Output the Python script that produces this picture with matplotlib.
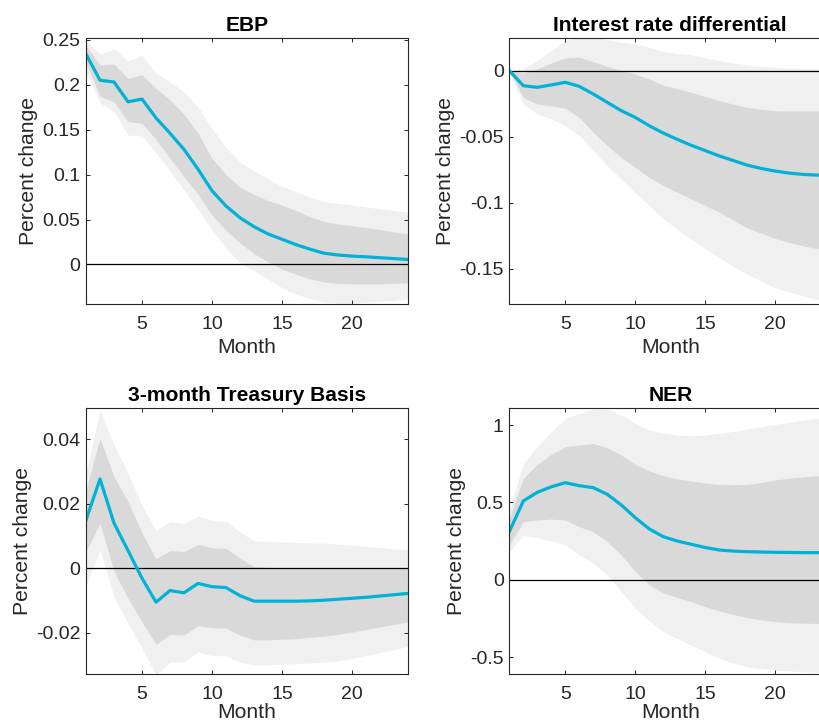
import numpy as np
import matplotlib
matplotlib.use('Agg')
from matplotlib import pyplot as plt
from matplotlib.ticker import FuncFormatter

plt.rcParams['font.family'] = ['Liberation Sans', 'DejaVu Sans']

months = np.arange(1, 25)

# EBP
ebp_med = [0.234, 0.205, 0.203, 0.181, 0.184, 0.163, 0.146, 0.128, 0.106, 0.082, 0.065, 0.052,
           0.042, 0.034, 0.028, 0.022, 0.017, 0.0125, 0.0105, 0.0093, 0.0085, 0.0075, 0.0065, 0.0055]
ebp_hi68 = [0.243, 0.222, 0.223, 0.207, 0.211, 0.196, 0.183, 0.167, 0.146, 0.118, 0.100, 0.086,
            0.078, 0.071, 0.066, 0.060, 0.053, 0.048, 0.045, 0.043, 0.041, 0.039, 0.036, 0.034]
ebp_lo68 = [0.224, 0.187, 0.181, 0.159, 0.157, 0.139, 0.118, 0.098, 0.078, 0.055, 0.038, 0.024,
            0.012, 0.003, -0.005, -0.011, -0.016, -0.0195, -0.021, -0.0215, -0.0215, -0.0215, -0.021, -0.0205]
ebp_hi90 = [0.250, 0.234, 0.240, 0.226, 0.233, 0.213, 0.203, 0.192, 0.175, 0.151, 0.130, 0.114,
            0.104, 0.095, 0.087, 0.081, 0.075, 0.070, 0.068, 0.066, 0.064, 0.062, 0.060, 0.058]
ebp_lo90 = [0.215, 0.180, 0.170, 0.144, 0.143, 0.124, 0.104, 0.083, 0.061, 0.039, 0.018, 0.002,
            -0.007, -0.016, -0.026, -0.033, -0.038, -0.042, -0.043, -0.043, -0.042, -0.041, -0.040, -0.038]

# Interest rate differential
ird_med = [0.0, -0.0114, -0.0126, -0.0108, -0.0088, -0.0119, -0.0177, -0.024, -0.0303, -0.0354, -0.0417, -0.0472,
           -0.052, -0.0565, -0.0605, -0.0645, -0.068, -0.0715, -0.074, -0.076, -0.0775, -0.0785, -0.079, -0.0792]
ird_hi68 = [0.0, -0.0018, 0.0013, 0.0058, 0.0096, 0.0101, 0.0068, 0.0033, 0.0, -0.0025, -0.0063, -0.011,
            -0.0135, -0.0164, -0.0195, -0.0227, -0.0255, -0.0278, -0.0292, -0.0303, -0.0305, -0.0305, -0.0305, -0.0305]
ird_lo68 = [0.0, -0.0202, -0.0253, -0.0265, -0.0285, -0.0354, -0.0467, -0.0568, -0.0657, -0.0732, -0.0808, -0.087,
            -0.092, -0.097, -0.102, -0.107, -0.113, -0.119, -0.123, -0.127, -0.130, -0.1326, -0.1346, -0.1355]
ird_hi90 = [0.0, 0.0013, 0.0076, 0.0152, 0.0227, 0.026, 0.026, 0.0235, 0.0214, 0.0202, 0.0177, 0.0145,
            0.013, 0.0119, 0.0098, 0.0076, 0.006, 0.0043, 0.0033, 0.0025, 0.002, 0.0018, 0.0016, 0.0015]
ird_lo90 = [0.0, -0.0253, -0.0328, -0.0366, -0.0417, -0.0492, -0.0606, -0.072, -0.082, -0.0922, -0.1023, -0.112,
            -0.120, -0.1275, -0.1345, -0.1414, -0.148, -0.154, -0.159, -0.1642, -0.1675, -0.1705, -0.173, -0.175]

# 3-month Treasury basis
tb_med = [0.015, 0.0277, 0.014, 0.0055, -0.0031, -0.0105, -0.0069, -0.0076, -0.0047, -0.0057, -0.006, -0.0085,
          -0.0102, -0.0102, -0.0102, -0.0102, -0.0101, -0.0099, -0.0096, -0.0093, -0.009, -0.0086, -0.0082, -0.0078]
tb_hi68 = [0.0243, 0.0403, 0.0284, 0.0207, 0.0109, 0.0029, 0.0055, 0.0052, 0.0074, 0.0064, 0.0062, 0.0031,
           0.0005, 0.0003, 0.0002, 0.0002, 0.0002, 0.0002, 0.0001, 0.0001, 0.0001, 0.0001, 0.0001, 0.0001]
tb_lo68 = [0.0052, 0.0140, -0.001, -0.0093, -0.0166, -0.0236, -0.0205, -0.0207, -0.0178, -0.0184, -0.0186, -0.0207,
           -0.0222, -0.0222, -0.0220, -0.0218, -0.0214, -0.0210, -0.0205, -0.0198, -0.0190, -0.0182, -0.0174, -0.0166]
tb_hi90 = [0.0295, 0.049, 0.0382, 0.0295, 0.0196, 0.0116, 0.0145, 0.0139, 0.0162, 0.0148, 0.0145, 0.0113,
           0.0085, 0.0083, 0.0082, 0.0080, 0.0079, 0.0078, 0.0075, 0.0072, 0.0068, 0.0065, 0.0061, 0.0057]
tb_lo90 = [-0.0052, 0.0057, -0.0088, -0.0171, -0.0248, -0.033, -0.0291, -0.029, -0.0259, -0.0271, -0.0271, -0.0291,
           -0.0300, -0.0299, -0.0298, -0.0296, -0.0294, -0.0291, -0.0287, -0.0280, -0.0271, -0.0262, -0.0252, -0.0242]

# NER
ner_med = [0.31, 0.509, 0.565, 0.601, 0.627, 0.608, 0.595, 0.552, 0.483, 0.401, 0.328, 0.278,
           0.25, 0.229, 0.208, 0.192, 0.185, 0.181, 0.179, 0.177, 0.176, 0.175, 0.175, 0.175]
ner_hi68 = [0.40, 0.655, 0.746, 0.811, 0.860, 0.871, 0.882, 0.853, 0.806, 0.746, 0.703, 0.672,
            0.652, 0.638, 0.625, 0.616, 0.614, 0.616, 0.628, 0.645, 0.656, 0.666, 0.672, 0.676]
ner_lo68 = [0.224, 0.375, 0.386, 0.392, 0.386, 0.343, 0.310, 0.246, 0.160, 0.052, -0.034, -0.085,
            -0.115, -0.142, -0.174, -0.202, -0.225, -0.245, -0.26, -0.271, -0.277, -0.281, -0.283, -0.285]
ner_hi90 = [0.45, 0.752, 0.860, 0.957, 1.043, 1.075, 1.103, 1.103, 1.065, 1.011, 0.968, 0.946,
            0.936, 0.931, 0.936, 0.946, 0.959, 0.974, 0.989, 1.004, 1.018, 1.032, 1.043, 1.05]
ner_lo90 = [0.181, 0.285, 0.272, 0.251, 0.224, 0.160, 0.106, 0.031, -0.077, -0.185, -0.267, -0.336,
            -0.38, -0.423, -0.467, -0.509, -0.538, -0.563, -0.575, -0.584, -0.59, -0.595, -0.599, -0.602]

panels = [
    ('EBP', ebp_med, ebp_lo68, ebp_hi68, ebp_lo90, ebp_hi90, (-0.044, 0.252), [0, 0.05, 0.1, 0.15, 0.2, 0.25]),
    ('Interest rate differential', ird_med, ird_lo68, ird_hi68, ird_lo90, ird_hi90, (-0.1765, 0.0247), [-0.15, -0.1, -0.05, 0]),
    ('3-month Treasury Basis', tb_med, tb_lo68, tb_hi68, tb_lo90, tb_hi90, (-0.0328, 0.0498), [-0.02, 0, 0.02, 0.04]),
    ('NER', ner_med, ner_lo68, ner_hi68, ner_lo90, ner_hi90, (-0.61, 1.112), [-0.5, 0, 0.5, 1]),
]

# axes boxes in figure fractions (right column runs past the figure edge, like the original)
positions = [
    [0.1049, 0.5807, 0.3927, 0.3669],
    [0.6211, 0.5807, 0.3927, 0.3669],
    [0.1049, 0.0703, 0.3927, 0.3673],
    [0.6211, 0.0703, 0.3927, 0.3673],
]

line_color = '#00B2D6'
dark_band = '#D9D9D9'
light_band = '#F0F0F0'
txt = '#262626'

fig = plt.figure(figsize=(8.2, 7.25), dpi=100)

for i, ((title, med, lo68, hi68, lo90, hi90, ylim, yticks), pos) in enumerate(zip(panels, positions)):
    ax = fig.add_axes(pos)
    ax.fill_between(months, lo90, hi90, color=light_band, linewidth=0)
    ax.fill_between(months, lo68, hi68, color=dark_band, linewidth=0)
    ax.axhline(0, color='black', linewidth=0.9)
    ax.plot(months, med, color=line_color, linewidth=2.3)
    ax.set_xlim(1, 24)
    ax.set_ylim(*ylim)
    ax.set_xticks([5, 10, 15, 20])
    ax.set_yticks(yticks)
    ax.yaxis.set_major_formatter(FuncFormatter(lambda v, p: '%g' % round(v, 4)))
    ax.tick_params(direction='in', length=3, width=0.7, colors=txt, labelsize=14,
                   top=True, right=True)
    ax.tick_params(axis='x', pad=8.5)
    ax.tick_params(axis='y', pad=4)
    for s in ax.spines.values():
        s.set_color(txt)
        s.set_linewidth(0.8)
    ax.set_title(title, fontsize=15.1, fontweight='bold', color='black', pad=5)
    # bottom row sits right at the figure edge, so keep its label a touch tighter
    ax.set_xlabel('Month', fontsize=15.2, color=txt, labelpad=4 if i < 2 else 0)
    ax.set_ylabel('Percent change', fontsize=15.2, color=txt, labelpad=3)

fig.savefig('out.png', dpi=100)
